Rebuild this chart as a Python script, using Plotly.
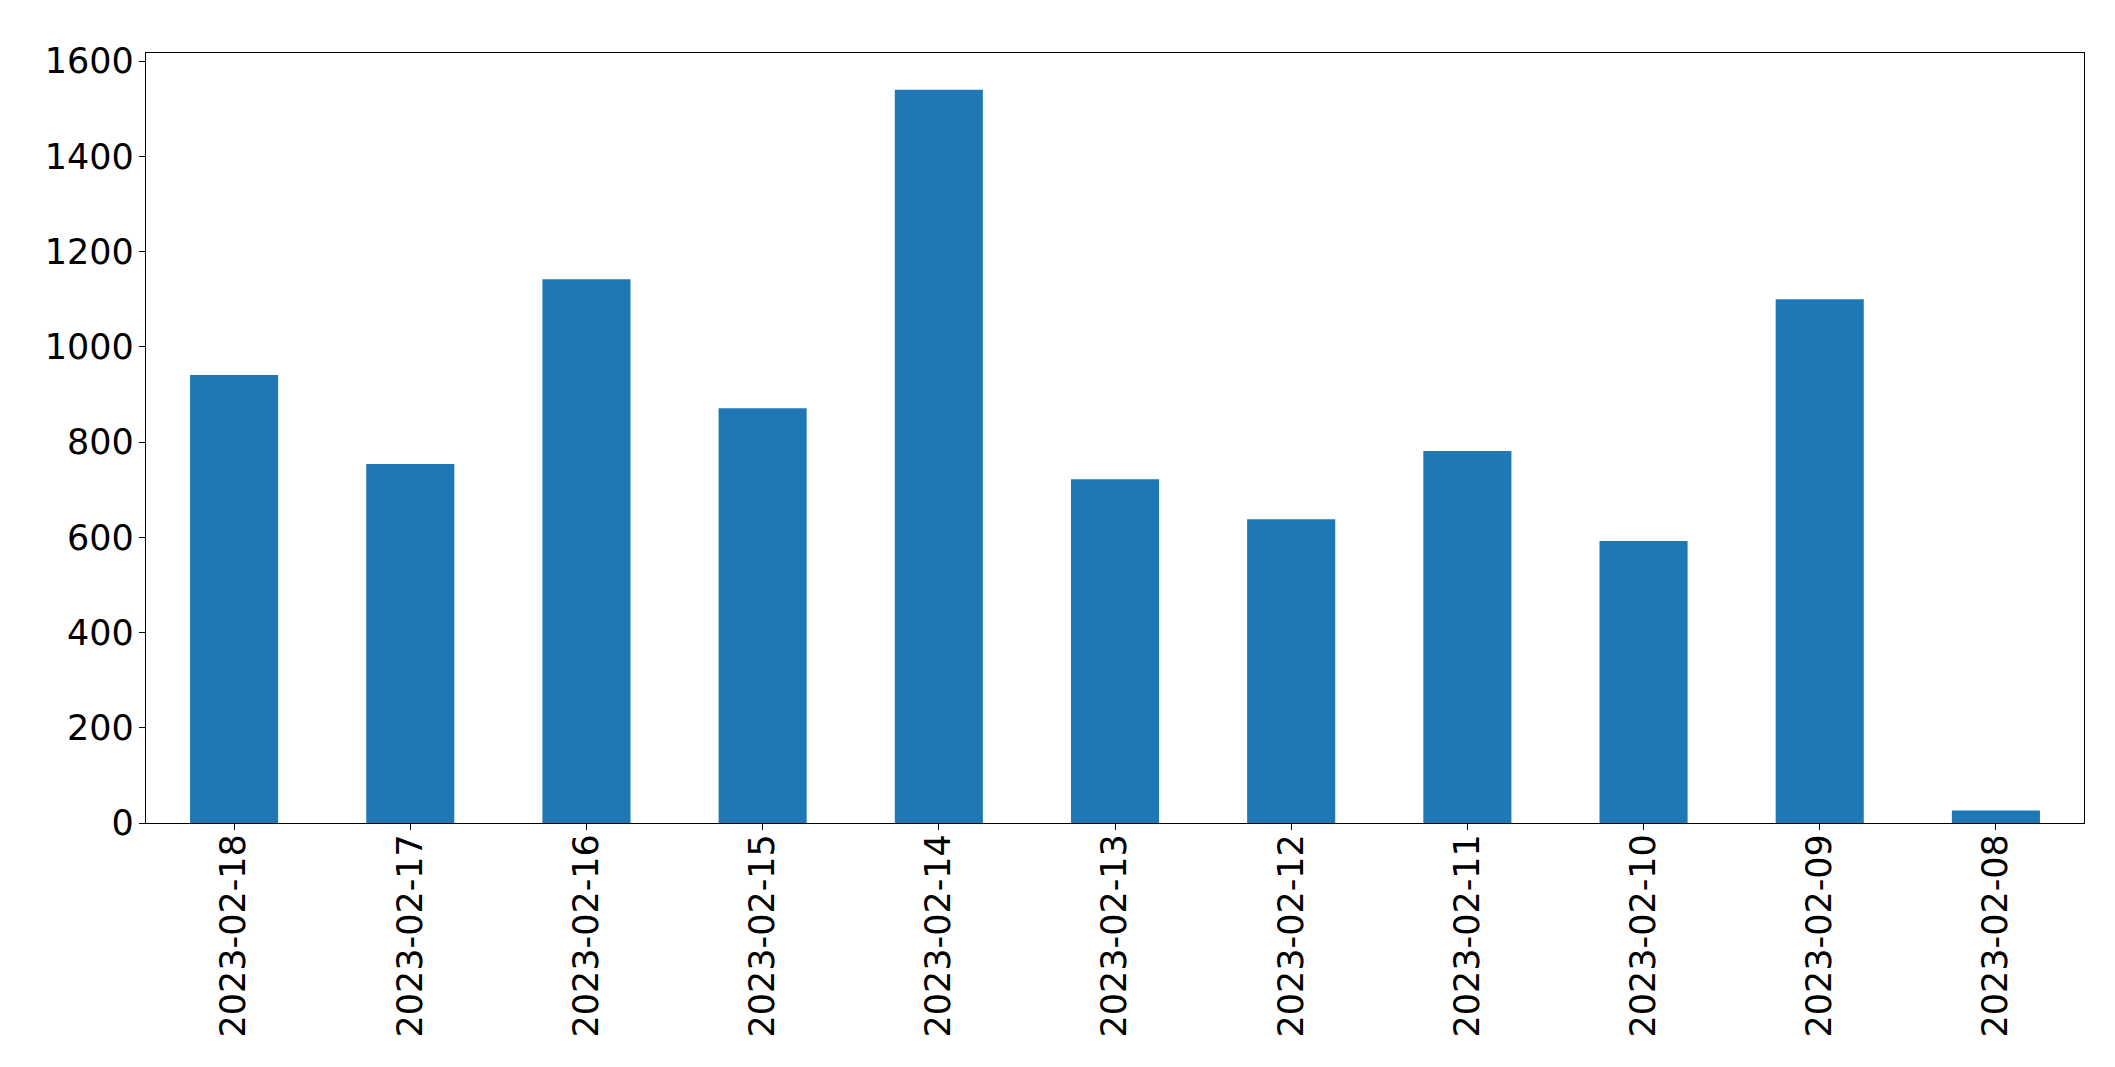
import plotly.graph_objects as go

dates = ["2023-02-18", "2023-02-17", "2023-02-16", "2023-02-15", "2023-02-14",
         "2023-02-13", "2023-02-12", "2023-02-11", "2023-02-10", "2023-02-09",
         "2023-02-08"]
counts = [941, 754, 1142, 871, 1540, 722, 638, 781, 592, 1100, 26]
y_ticks = [0, 200, 400, 600, 800, 1000, 1200, 1400, 1600]

fig = go.Figure(go.Bar(x=dates, y=counts, marker=dict(color="#1f77b4", line=dict(width=0)),
                       width=0.5))

axis_common = dict(showline=True, linecolor="black", linewidth=1.3, mirror=True,
                   ticks="outside", ticklen=6, tickwidth=1.3, tickcolor="black",
                   showgrid=False, zeroline=False,
                   tickfont=dict(family="DejaVu Sans", size=35, color="black"))

fig.update_layout(
    width=2115, height=1067,
    margin=dict(l=138, r=39, t=45, b=252),
    paper_bgcolor="white", plot_bgcolor="white",
    showlegend=False,
    xaxis=dict(type="category", range=[-0.5, 10.5], tickangle=-90,
               ticklabelstandoff=-10, **axis_common),
    yaxis=dict(range=[0, 1617], tickvals=y_ticks, ticktext=[str(v) for v in y_ticks],
               ticklabelstandoff=-2, **axis_common),
)

fig.write_html("out.html")
